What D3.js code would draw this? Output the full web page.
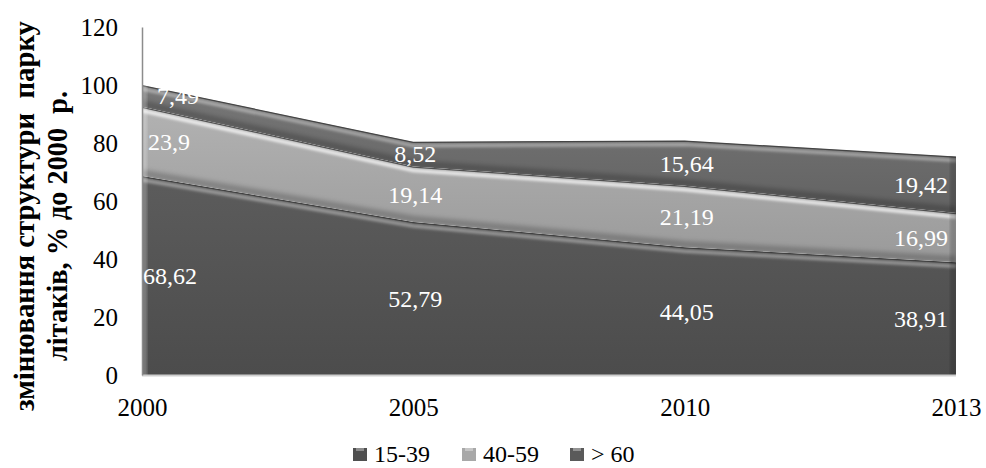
<!DOCTYPE html>
<html>
<head>
<meta charset="utf-8">
<script src="https://cdn.jsdelivr.net/npm/d3@7"></script>
<style>
  body { margin: 0; background: #fff; }
  svg { display: block; }
  text { font-family: "Liberation Serif", "Times New Roman", serif; }
</style>
</head>
<body>
<svg id="chart" width="986" height="468"></svg>
<script>
const categories = ["2000", "2005", "2010", "2013"];
const seriesNames = ["15-39", "40-59", "> 60"];
const s1539 = [68.62, 52.79, 44.05, 38.91];
const s4059 = [23.9, 19.14, 21.19, 16.99];
const s60 = [7.49, 8.52, 15.64, 19.42];
const yTicks = [0, 20, 40, 60, 80, 100, 120];
const yTitle1 = "змінювання структури  парку";
const yTitle2 = "літаків, % до 2000  р.";

const seriesValues = [s1539, s4059, s60];
const fills = [
  ["#5c5c5c", "#4c4c4c"],
  ["#b2b2b2", "#9a9a9a"],
  ["#777777", "#626262"]
];
const legendFill = ["#4f4f4f", "#a8a8a8", "#5a5a5a"];

const svg = d3.select("#chart");
const x = d3.scalePoint().domain(categories).range([142, 956]);
const y = d3.scaleLinear().domain([0, 120]).range([375, 27]);

const table = categories.map((c, i) => {
  const row = { cat: c };
  seriesNames.forEach((n, k) => row[n] = seriesValues[k][i]);
  return row;
});
const layers = d3.stack().keys(seriesNames)(table);

const defs = svg.append("defs");
const blur = defs.append("filter").attr("id", "blur").attr("x", "-5%").attr("y", "-50%").attr("width", "110%").attr("height", "200%");
blur.append("feGaussianBlur").attr("stdDeviation", 1.6);
const blur2 = defs.append("filter").attr("id", "blur2").attr("x", "-5%").attr("y", "-50%").attr("width", "110%").attr("height", "200%");
blur2.append("feGaussianBlur").attr("stdDeviation", 2.5);

layers.forEach((L, k) => {
  const g = defs.append("linearGradient").attr("id", "grad" + k)
    .attr("x1", 0).attr("y1", 0).attr("x2", 0).attr("y2", 1);
  g.append("stop").attr("offset", "0%").attr("stop-color", fills[k][0]);
  g.append("stop").attr("offset", "100%").attr("stop-color", fills[k][1]);
});

const area = d3.area()
  .x(d => x(d.data.cat))
  .y0(d => y(d[0]))
  .y1(d => y(d[1]));
const topLine = d3.line().x(d => x(d.data.cat)).y(d => y(d[1]));
const botLine = d3.line().x(d => x(d.data.cat)).y(d => y(d[0]));

const plot = svg.append("g");
layers.forEach((L, k) => {
  defs.append("clipPath").attr("id", "clip" + k).append("path").attr("d", area(L));
  const lg = plot.append("g").attr("clip-path", `url(#clip${k})`);
  lg.append("path").attr("d", area(L)).attr("fill", `url(#grad${k})`);
  lg.append("path").attr("d", botLine(L)).attr("transform", "translate(0,-3)")
    .attr("fill", "none").attr("stroke", "#000").attr("stroke-opacity", 0.25)
    .attr("stroke-width", 6).attr("filter", "url(#blur2)");
  lg.append("path").attr("d", topLine(L)).attr("transform", "translate(0,4)")
    .attr("fill", "none").attr("stroke", "#fff").attr("stroke-opacity", k === 1 ? 0.9 : 0.45)
    .attr("stroke-width", 3).attr("filter", "url(#blur)");
  lg.append("path").attr("d", topLine(L))
    .attr("fill", "none").attr("stroke", "#3a3a3a").attr("stroke-opacity", 0.8)
    .attr("stroke-width", 2.5);
  lg.append("rect").attr("x", x(categories[0])).attr("y", 0).attr("width", 5).attr("height", 400)
    .attr("fill", "#fff").attr("fill-opacity", 0.25).attr("filter", "url(#blur)");
  lg.append("rect").attr("x", x(categories[categories.length - 1]) - 6).attr("y", 0).attr("width", 8).attr("height", 400)
    .attr("fill", "#000").attr("fill-opacity", 0.18).attr("filter", "url(#blur)");
});
plot.append("line").attr("x1", x(categories[0])).attr("x2", x(categories[categories.length - 1]))
  .attr("y1", y(0) + 0.5).attr("y2", y(0) + 0.5).attr("stroke", "#cfcfcf").attr("stroke-width", 2);

// Y axis
const yAxis = svg.append("g").attr("transform", `translate(${x(categories[0])},0)`)
  .call(d3.axisLeft(y).tickValues(yTicks).tickSize(0).tickPadding(24));
yAxis.select(".domain").attr("stroke", "#8c8c8c").attr("stroke-width", 1.5);
yAxis.selectAll("text").attr("font-size", 25).attr("fill", "#000")
  .style("font-family", '"Liberation Serif", serif');

// X axis
const xAxis = svg.append("g").attr("transform", `translate(0,${y(0)})`)
  .call(d3.axisBottom(x).tickSize(0).tickPadding(23));
xAxis.select(".domain").remove();
xAxis.selectAll("text").attr("font-size", 25).attr("fill", "#000")
  .style("font-family", '"Liberation Serif", serif');

// Data labels
const fmt = v => String(v).replace(".", ",");
const n = categories.length;
const firstOffset = [1, 6, 15];
layers.forEach((L, k) => {
  svg.append("g").selectAll("text").data(L).join("text")
    .attr("x", (d, i) => i === 0 ? x(d.data.cat) + firstOffset[k] : i === n - 1 ? x(d.data.cat) - 8 : x(d.data.cat) + 2)
    .attr("y", d => y((d[0] + d[1]) / 2))
    .attr("dy", "0.35em")
    .attr("text-anchor", (d, i) => i === 0 ? "start" : i === n - 1 ? "end" : "middle")
    .attr("font-size", 24)
    .attr("fill", "#fff")
    .text((d, i) => fmt(seriesValues[k][i]));
});

// Y title
svg.append("text").attr("transform", "translate(34,216) rotate(-90)")
  .attr("text-anchor", "middle").attr("font-size", 29).attr("font-weight", "bold")
  .attr("textLength", 390).attr("lengthAdjust", "spacingAndGlyphs")
  .style("white-space", "pre").text(yTitle1);
svg.append("text").attr("transform", "translate(67,226) rotate(-90)")
  .attr("text-anchor", "middle").attr("font-size", 29).attr("font-weight", "bold")
  .attr("textLength", 270).attr("lengthAdjust", "spacingAndGlyphs")
  .style("white-space", "pre").text(yTitle2);

// Legend
const legendX = [353, 462, 570];
const lg = svg.append("g");
seriesNames.forEach((nm, k) => {
  const gi = lg.append("g").attr("transform", `translate(${legendX[k]},448)`);
  gi.append("rect").attr("width", 14).attr("height", 13).attr("fill", legendFill[k]);
  gi.append("rect").attr("x", 3).attr("y", 0).attr("width", 8).attr("height", 3).attr("fill", "#fff").attr("fill-opacity", 0.35);
  gi.append("text").attr("x", 21).attr("y", 6).attr("dy", "0.35em").attr("font-size", 24).attr("fill", "#000").text(nm);
});
</script>
</body>
</html>
